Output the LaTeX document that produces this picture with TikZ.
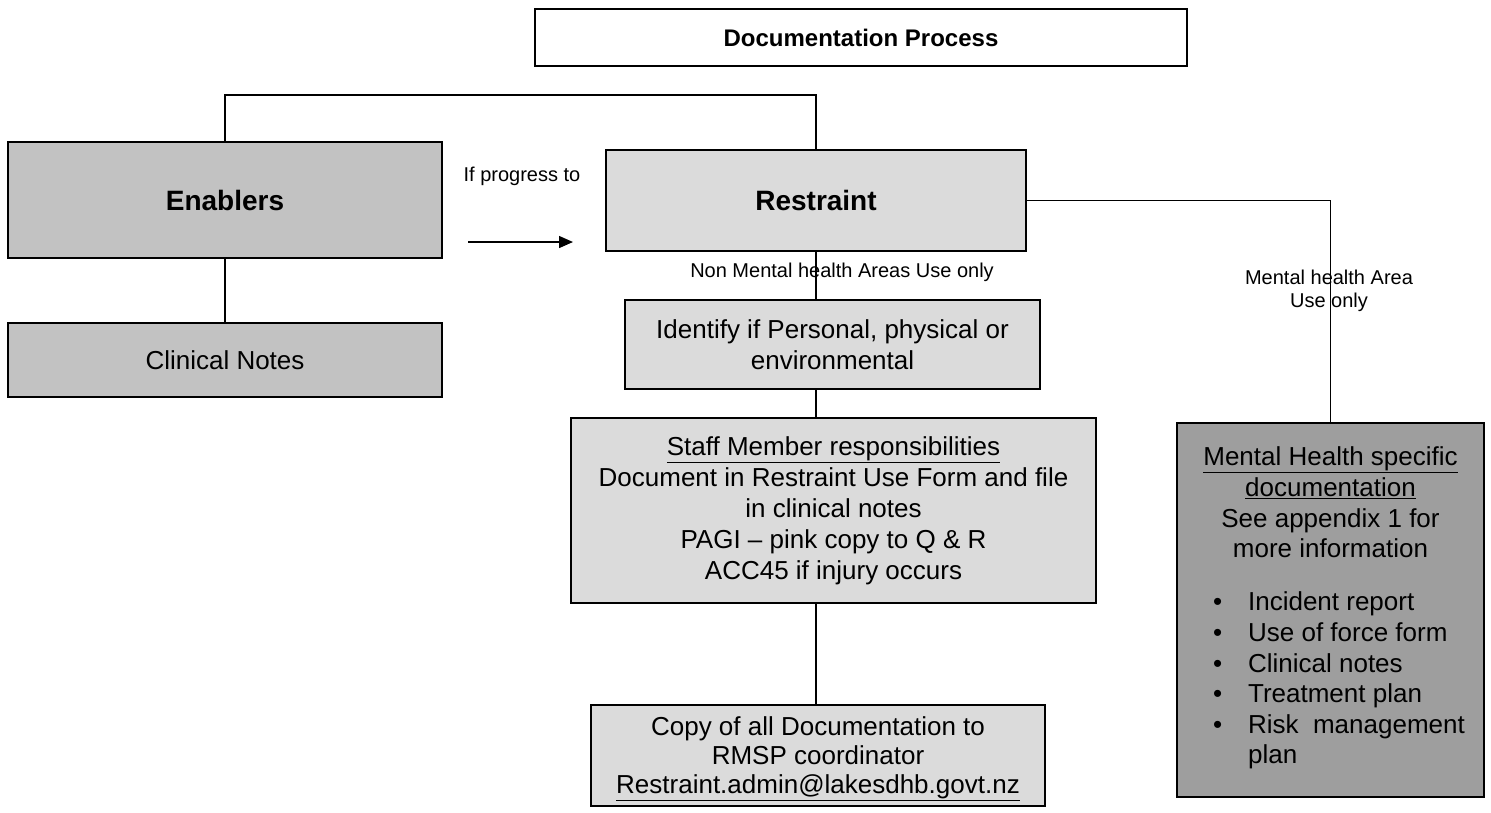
\documentclass[tikz,border=0pt]{standalone}
\usepackage{fontspec}
\setmainfont{Liberation Sans}
\usetikzlibrary{arrows.meta}
\begin{document}
\begin{tikzpicture}[x=1pt,y=-1pt,
  box/.style={draw=black, line width=1.8pt, rectangle, inner sep=0pt, align=center},
  lightbox/.style={box, fill=black!14},
  midbox/.style={box, fill=black!24},
  darkbox/.style={box, fill=black!38},
  conn/.style={draw=black, line width=1.4pt},
  lbl/.style={inner sep=0pt, align=center, font=\fontsize{20}{23}\selectfont},
  bigtext/.style={font=\fontsize{28}{33}\selectfont\bfseries},
  bodytext/.style={font=\fontsize{26}{31}\selectfont}
]
\useasboundingbox (0,0) rectangle (1491,812);

\node[box, fill=white, minimum width=652pt, minimum height=57pt,
      font=\fontsize{24}{28}\selectfont\bfseries] (title) at (861,37.5) {Documentation Process};

\node[midbox, bigtext, minimum width=434pt, minimum height=116pt] (enab) at (225,200) {Enablers};
\node[midbox, bodytext, minimum width=434pt, minimum height=74pt] (clin) at (225,360) {Clinical Notes};

\node[lightbox, bigtext, minimum width=420pt, minimum height=101pt] (rest) at (816,200.5) {Restraint};
\node[lightbox, bodytext, minimum width=415pt, minimum height=89pt] (iden) at (832.5,344.5)
  {Identify if Personal, physical or\\environmental};
\node[lightbox, bodytext, minimum width=525pt, minimum height=185pt] (staff) at (833.5,510.5)
  {\underline{Staff Member responsibilities}\\Document in Restraint Use Form and file\\in clinical notes\\PAGI -- pink copy to Q \& R\\ACC45 if injury occurs};
\node[lightbox, font=\fontsize{26}{29}\selectfont, minimum width=454pt, minimum height=101pt] (copy) at (818,755.5)
  {\rule{0pt}{26pt}Copy of all Documentation to\\RMSP coordinator\\\underline{Restraint.admin@lakesdhb.govt.nz}};

\node[darkbox, minimum width=307pt, minimum height=374pt] (mh) at (1330.5,610)
  {\begin{minipage}{307pt}\fontsize{26}{30.6}\selectfont\centering
   \underline{Mental Health specific}\\
   \underline{documentation}\\
   See appendix 1 for\\
   more information\par\vspace{30.6pt}
   \raggedright\hspace*{36pt}\begin{tabular}{@{}l@{\hspace{26pt}}l@{}}
   \textbullet & Incident report\\
   \textbullet & Use of force form\\
   \textbullet & Clinical notes\\
   \textbullet & Treatment plan\\
   \textbullet & Risk\ \ management\\
               & plan
   \end{tabular}
   \end{minipage}};

\node[lbl] (prog) at (522,176) {If progress to};
\node[lbl] (nonmh) at (842,272) {Non Mental health Areas Use only};
\node[lbl] (mhlbl) at (1329,291) {Mental health Area\\Use only};

\coordinate (jn) at (816,95);
\draw[conn] (enab.north) |- (jn) -- (rest.north);
\draw[conn] (enab.south) -- (clin.north);
\draw[conn] (rest.south) -- (iden.north -| rest.south);
\draw[conn] (iden.south -| rest.south) -- (staff.north -| rest.south);
\draw[conn] (staff.south -| rest.south) -- (copy.north -| rest.south);
\draw[conn] (rest.east) -| (mh.north);

\coordinate (a1) at (468,242);
\coordinate (a2) at (573,242);
\draw[conn, -{Triangle[length=14pt,width=12pt]}] (a1) -- (a2);
\end{tikzpicture}
\end{document}
